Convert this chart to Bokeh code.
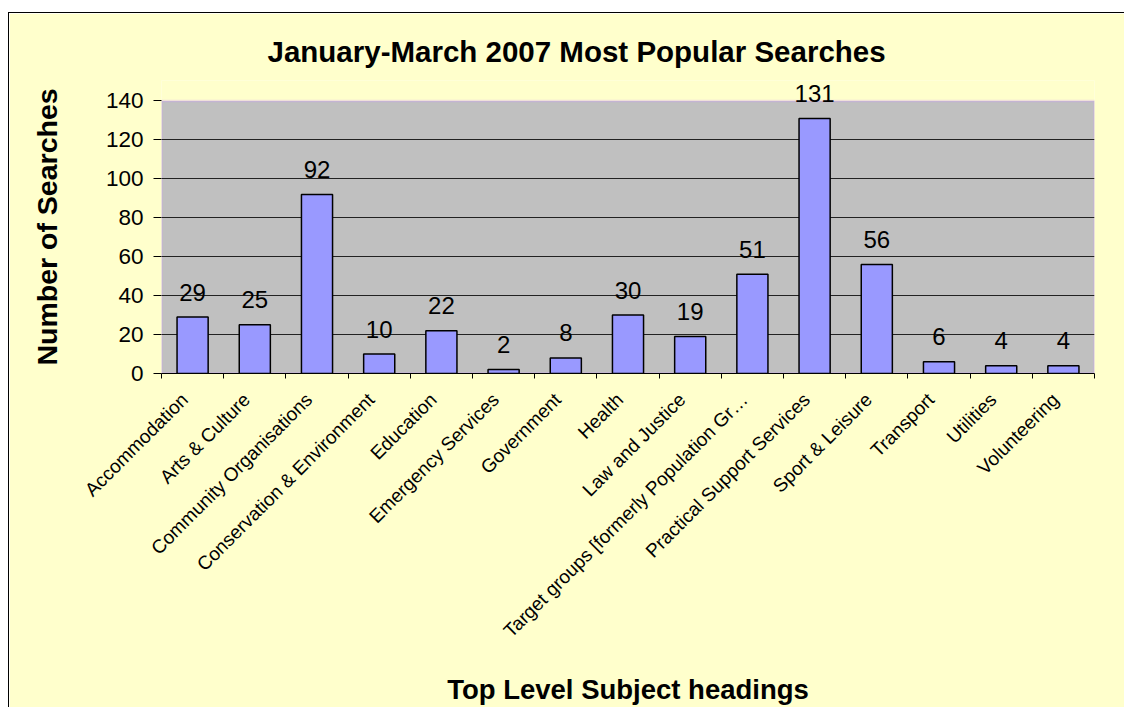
import math
from bokeh.plotting import figure
from bokeh.models import Range1d, FixedTicker, ColumnDataSource, Label, LinearAxis, BoxAnnotation
from bokeh.embed import file_html
from bokeh.resources import INLINE

categories = [
    "Accommodation", "Arts & Culture", "Community Organisations",
    "Conservation & Environment", "Education", "Emergency Services",
    "Government", "Health", "Law and Justice",
    "Target groups [formerly Population Gr…", "Practical Support Services",
    "Sport & Leisure", "Transport", "Utilities", "Volunteering",
]
searches = [29, 25, 92, 10, 22, 2, 8, 30, 19, 51, 131, 56, 6, 4, 4]
y_ticks = [0, 20, 40, 60, 80, 100, 120, 140]

title_text = "January-March 2007 Most Popular Searches"
x_title = "Top Level Subject headings"
y_title = "Number of Searches"

FONT = "Liberation Sans"
BG = "#FFFFCC"

n = len(categories)
xs = [i + 0.5 for i in range(n)]
src = ColumnDataSource(dict(x=xs, top=searches))

# the frame reaches a little above the top tick so that the "131" label is not clipped;
# the grey plot area itself is drawn from 0 to the top tick.
p = figure(width=1116, height=695, output_backend="svg", toolbar_location=None,
           x_range=Range1d(0, n), y_range=Range1d(y_ticks[0], 150.5),
           x_axis_location=None,
           min_border_left=152, min_border_right=31, min_border_top=67, min_border_bottom=335)
p.margin = (12, 0, 0, 8)
p.styles = {"border-top": "1px solid black", "border-left": "1px solid black"}

p.background_fill_color = BG
p.border_fill_color = BG
p.outline_line_color = None

plot_area = BoxAnnotation(left=0, right=n, bottom=y_ticks[0], top=y_ticks[-1],
                          fill_color="#C0C0C0", fill_alpha=1.0,
                          line_color="#CC99FF", line_width=2.5, level="image")
p.add_layout(plot_area)

p.title.text = title_text
p.title.text_font = FONT
p.title.text_font_size = "29.5px"
p.title.text_font_style = "bold"
p.title.text_color = "black"
p.title.align = "left"
p.title.offset = 106
p.title.standoff = 25

p.vbar(x="x", top="top", width=0.5, source=src, fill_color="#9999FF",
       line_color="black", line_width=1.5)

for xv, v in zip(xs, searches):
    p.add_layout(Label(x=xv, y=v, text=str(v), text_align="center",
                       text_baseline="alphabetic", y_offset=25, text_font=FONT,
                       text_font_size="24px", text_color="black"))

# y axis
p.yaxis.ticker = FixedTicker(ticks=y_ticks)
p.yaxis.axis_label = y_title
p.yaxis.axis_label_text_font = FONT
p.yaxis.axis_label_text_font_size = "28.5px"
p.yaxis.axis_label_text_font_style = "bold"
p.yaxis.axis_label_text_color = "black"
p.yaxis.axis_label_standoff = 40
p.yaxis.major_label_text_font = FONT
p.yaxis.major_label_text_font_size = "22.5px"
p.yaxis.major_label_text_color = "black"
p.yaxis.major_label_standoff = 10
p.yaxis.major_tick_out = 8
p.yaxis.major_tick_in = 0
p.yaxis.minor_tick_line_color = None
p.yaxis.axis_line_color = None
p.yaxis.major_tick_line_color = "black"

# x axis: tick marks at category boundaries (no labels)
tick_axis = LinearAxis(ticker=FixedTicker(ticks=[], minor_ticks=list(range(n + 1))))
tick_axis.minor_tick_out = 5
tick_axis.minor_tick_in = 0
tick_axis.minor_tick_line_color = "black"
tick_axis.major_tick_line_color = None
tick_axis.major_label_standoff = 0
tick_axis.axis_line_color = "black"
p.add_layout(tick_axis, "below")

# x axis: category names (slightly shifted as in the original)
p.extra_x_ranges = {"lab": Range1d(0.13, n + 0.13)}
lab_axis = LinearAxis(x_range_name="lab", ticker=FixedTicker(ticks=xs))
lab_axis.major_label_overrides = {x: c for x, c in zip(xs, categories)}
lab_axis.major_label_orientation = math.pi / 4
lab_axis.major_label_text_font = FONT
lab_axis.major_label_text_font_size = "19px"
lab_axis.major_label_text_color = "black"
lab_axis.major_label_standoff = 12
lab_axis.major_tick_line_color = None
lab_axis.minor_tick_line_color = None
lab_axis.axis_line_color = None
lab_axis.axis_label = x_title
lab_axis.axis_label_text_font = FONT
lab_axis.axis_label_text_font_size = "27.5px"
lab_axis.axis_label_text_font_style = "bold"
lab_axis.axis_label_text_color = "black"
lab_axis.axis_label_standoff = 22
p.add_layout(lab_axis, "below")

p.xgrid.grid_line_color = None
p.ygrid.ticker = FixedTicker(ticks=y_ticks[1:-1])
p.ygrid.grid_line_color = "#222222"
p.ygrid.grid_line_width = 1

open("out.html", "w").write(file_html(p, INLINE))
